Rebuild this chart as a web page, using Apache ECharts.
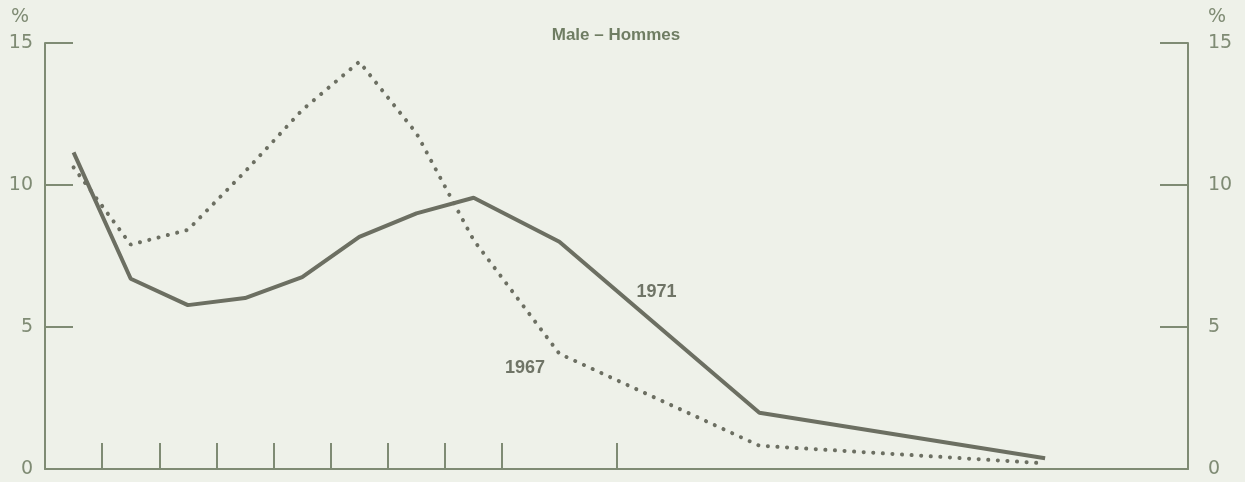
<!DOCTYPE html>
<html>
<head>
<meta charset="utf-8">
<script src="https://cdn.jsdelivr.net/npm/echarts@6/dist/echarts.min.js"></script>
<style>
  html, body { margin: 0; padding: 0; background: #eef1e9; }
  #chart { width: 1245px; height: 482px; }
</style>
</head>
<body>
<div id="chart"></div>
<script>
// x in tick-interval units (axis runs 0..20), points sit at the middle of each group
const groupMid = [0.5, 1.5, 2.5, 3.5, 4.5, 5.5, 6.5, 7.5, 9, 12.5, 17.5];
const rate1971 = [11.15, 6.7, 5.77, 6.02, 6.76, 8.17, 9.0, 9.55, 8.0, 1.98, 0.38];
const rate1967 = [10.62, 7.9, 8.42, 10.47, 12.64, 14.34, 11.82, 8.06, 4.06, 0.82, 0.2];
const xTicks = [1, 2, 3, 4, 5, 6, 7, 8, 10];
const yTicks = [0, 5, 10, 15];
const seriesNames = ['1971', '1967'];
const labelAt = [[10.7, 6.23], [8.4, 3.56]];

const axisColor = '#7f8b74';
const lineColor = '#6c6f62';

const chart = echarts.init(document.getElementById('chart'));

function pairs(xs, ys) {
  return xs.map((x, i) => [x, ys[i]]);
}

function yAxisCfg(pos) {
  return {
    type: 'value',
    position: pos,
    min: 0,
    max: 15,
    interval: 5,
    name: '%',
    nameLocation: 'end',
    nameGap: 16,
    nameTextStyle: {
      color: axisColor,
      fontSize: 19,
      fontFamily: 'DejaVu Sans',
      align: pos === 'left' ? 'right' : 'left',
      padding: pos === 'left' ? [0, 16, 0, 0] : [0, 0, 0, 20]
    },
    axisLine: { show: true, lineStyle: { color: axisColor, width: 2 } },
    axisTick: { show: true, inside: true, length: 28, lineStyle: { color: axisColor, width: 2 } },
    axisLabel: {
      color: axisColor,
      fontSize: 19,
      fontFamily: 'DejaVu Sans',
      margin: pos === 'left' ? 12 : 20,
      formatter: v => yTicks.includes(v) ? String(v) : ''
    },
    splitLine: { show: false }
  };
}

function yearLabel(i) {
  return {
    symbol: 'circle',
    symbolSize: 1,
    itemStyle: { color: 'rgba(0,0,0,0)' },
    label: {
      show: true,
      position: 'inside',
      formatter: seriesNames[i],
      color: '#6f7466',
      fontSize: 18,
      fontWeight: 'bold',
      fontFamily: 'Liberation Sans'
    },
    data: [{ coord: labelAt[i], value: seriesNames[i] }]
  };
}

const option = {
  animation: false,
  backgroundColor: '#eef1e9',
  grid: { left: 45, right: 57, top: 43, bottom: 13 },
  title: {
    text: 'Male – Hommes',
    left: 611,
    top: 22,
    textAlign: 'center',
    textStyle: { color: '#6f7d63', fontSize: 17, fontWeight: 'bold', fontFamily: 'Liberation Sans' }
  },
  xAxis: {
    type: 'value',
    min: 0,
    max: 20,
    axisLine: { show: true, lineStyle: { color: axisColor, width: 2 } },
    axisTick: {
      show: true,
      inside: true,
      length: 26,
      customValues: xTicks,
      lineStyle: { color: axisColor, width: 2 }
    },
    axisLabel: { show: false },
    splitLine: { show: false }
  },
  yAxis: [yAxisCfg('left'), yAxisCfg('right')],
  series: [
    {
      name: seriesNames[0],
      type: 'line',
      data: pairs(groupMid, rate1971),
      showSymbol: false,
      lineStyle: { color: lineColor, width: 4 },
      markPoint: yearLabel(0)
    },
    {
      name: seriesNames[1],
      type: 'line',
      data: pairs(groupMid, rate1967),
      showSymbol: false,
      lineStyle: { color: lineColor, width: 4, type: [0.1, 9.5], cap: 'round' },
      markPoint: yearLabel(1)
    }
  ]
};

chart.setOption(option);
</script>
</body>
</html>
